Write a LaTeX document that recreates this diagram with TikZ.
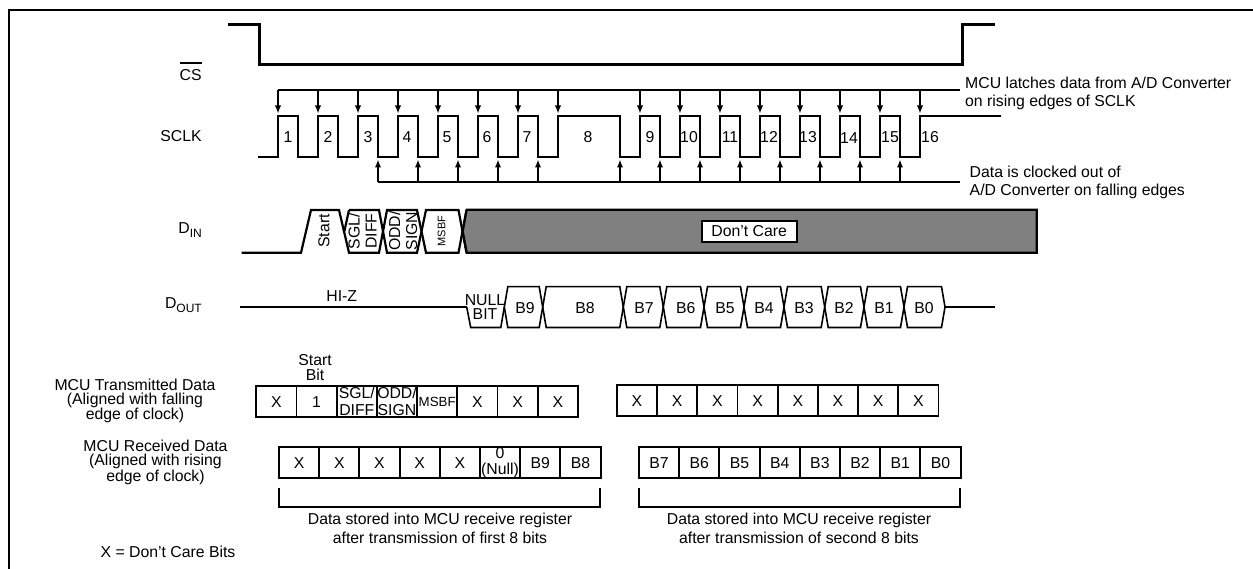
\documentclass[tikz,border=0pt]{standalone}
\usepackage{fontspec}
\setmainfont{Liberation Sans}
\usetikzlibrary{arrows.meta}
\newcommand{\lowtext}[1]{\raisebox{-4pt}{\fontsize{12}{12}\selectfont #1}}
\begin{document}
\begin{tikzpicture}[x=1pt,y=-1pt,font=\fontsize{15.8}{14}\selectfont,txt/.style={inner sep=0,align=center},one/.style={text height=11.4pt,text depth=0pt},small/.style={txt,font=\fontsize{11}{12}\selectfont},tight/.style={txt,font=\fontsize{15.8}{17}\selectfont},nul/.style={txt,font=\fontsize{15.8}{13.6}\selectfont},cell/.style={draw,line width=1.9pt,minimum width=40.2pt,minimum height=31pt,inner sep=0,align=center},sig/.style={line width=2.2pt},thin sig/.style={line width=1.6pt},arr/.style={line width=1.7pt,-{Latex[length=8pt,width=6.5pt]}}]
\useasboundingbox (0,0) rectangle (1253,569);
\draw[line width=2.6pt] (9,569)--(9,10)--(1253,10);
\node[txt] (cs) at (190.7,75) {CS};
\draw[line width=2pt] (180,63.5)--(202,63.5);
\node[txt] (sclk) at (181,136) {SCLK};
\node[txt,anchor=base east] (din) at (202,233.7) {D\lowtext{IN}};
\node[txt,anchor=base east] (dout) at (202,308.3) {D\lowtext{OUT}};
\draw[sig] (228,24.5)--(259.5,24.5)--(259.5,64.5)--(962.5,64.5)--(962.5,24.5)--(995,24.5);
\draw[sig] (258,157)
  \foreach \x in {278,318,358,398,438,478,518} {--(\x,157)--(\x,116)--(\x+20,116)--(\x+20,157)}
  --(558,157)--(558,116)--(620,116)--(620,157)
  \foreach \x in {640,680,720,760,800,840,880} {--(\x,157)--(\x,116)--(\x+20,116)--(\x+20,157)}
  --(920,157)--(920,116)--(1001,116);
\foreach \x/\t in {288/1,328/2,368/3,407/4,447/5,487/6,527/7,588/8,650/9,689/10,730/11,769/12,808/13,890/15,930/16} \node[txt,one] (clk\t) at (\x,136.5) {\t};
\node[txt,one] (clk14) at (849,138) {14};
\draw[sig] (278,90)--(960,90);
\foreach \x in {278,318,358,398,438,478,518,558,640,680,720,760,800,840,880,920} \draw[arr] (\x,90)--(\x,113.5);
\draw[sig] (378,182)--(960,182);
\foreach \x in {378,418,458,498,538,620,660,700,740,780,820,860,900} \draw[arr] (\x,182)--(\x,159.5);
\node[txt,align=left,anchor=west] (latch) at (965,93) {MCU latches data from A/D Converter\\[4pt]on rising edges of SCLK};
\node[txt,align=left,anchor=west] (clocked) at (969.5,182.5) {Data is clocked out of\\[4pt]A/D Converter on falling edges};
\draw[sig] (241.7,252.7)--(301,252.7)--(311,210)--(339,210)--(349,252.7)--(379,252.7)--(387,210)--(417,210)--(426,252.7)--(458.5,252.7)--(466.5,210);
\draw[sig] (349,210)--(344.3,231.5);
\draw[sig] (349,210)--(379,210)--(387,252.7)--(417,252.7)--(426,210)--(458.5,210)--(466.5,252.7);
\filldraw[sig,fill=black!50] (1036.7,209.7)--(466.7,209.7)--(462.7,231.2)--(466.7,252.7)--(1036.7,252.7)--cycle;
\node[draw,line width=2pt,fill=white,minimum width=95pt,minimum height=21.5pt,inner sep=0] (care) at (749.2,231.5) {Don't Care};
\node[txt,rotate=90] (start) at (324,231) {Start};
\node[tight,rotate=90] (sgl) at (362.5,231) {SGL/\\DIFF};
\node[tight,rotate=90] (odd) at (403,231) {ODD/\\SIGN};
\node[small,rotate=90] (msbf) at (441.7,231) {MSBF};
\draw[sig] (240,307)--(466.7,307);
\node[txt] (hiz) at (341.7,295.7) {HI-Z};
\draw[thin sig] (466.7,307)--(470.7,327.5)--(500.8,327.5)--(504.3,307);
\foreach \a/\b in {504.3/542.7,542.7/623.3,623.3/663.3,663.3/704,704/744,744/784,784/824.7,824.7/864,864/904,904/945} \draw[thin sig] (\a,307)--(\a+3.5,286.7)--(\b-3.5,286.7)--(\b,307)--(\b-3.5,327.5)--(\a+3.5,327.5)--cycle;
\draw[sig] (945,307)--(995,307);
\node[nul] (null) at (485,307) {NULL\\BIT};
\foreach \x/\t in {525/B9,585/B8,644/B7,685.7/B6,725/B5,764/B4,804/B3,844/B2,884/B1,924/B0} \node[txt,one] (out\t) at (\x,307.7) {\t};
\node[txt] (startbit) at (315,367.5) {Start\\[1pt]Bit};
\node[txt] (tx) at (135,401) {MCU Transmitted Data\\(Aligned with falling\\edge of clock)};
\node[txt] (rx) at (155.5,462.3) {MCU Received Data\\(Aligned with rising\\edge of clock)};
\node[cell,one] (t1) at (276.4,401.7) {X};
\node[cell,one] (t2) at (316.6,401.7) {1};
\node[cell,font=\fontsize{15.8}{17}\selectfont] (t3) at (356.8,401.7) {SGL/\\DIFF};
\node[cell,font=\fontsize{15.8}{17}\selectfont] (t4) at (397,401.7) {ODD/\\SIGN};
\node[cell,font=\fontsize{13.3}{14}\selectfont] (t5) at (437.2,401.7) {MSBF};
\foreach \i/\x in {6/477.4,7/517.6,8/557.8} \node[cell,one] (t\i) at (\x,401.7) {X};
\foreach \i/\x in {1/637,2/677.2,3/717.4,4/757.6,5/797.8,6/838,7/878.2,8/918.4} \node[cell,one] (u\i) at (\x,400.7) {X};
\foreach \i/\x in {1/299.1,2/339.3,3/379.5,4/419.7,5/459.9} \node[cell,one] (r\i) at (\x,462.5) {X};
\node[cell,font=\fontsize{15.8}{15.5}\selectfont] (r6) at (500.1,462.5) {0\\(Null)};
\node[cell,one] (r7) at (540.3,462.5) {B9};
\node[cell,one] (r8) at (580.5,462.5) {B8};
\foreach \i/\x/\t in {1/659.1/B7,2/699.3/B6,3/739.5/B5,4/779.7/B4,5/819.9/B3,6/860.1/B2,7/900.3/B1,8/940.5/B0} \node[cell,one] (s\i) at (\x,462.5) {\t};
\draw[sig] (279,487.7)--(279,506.7)--(600,506.7)--(600,487.7);
\draw[sig] (639,487.7)--(639,506.7)--(960,506.7)--(960,487.7);
\node[txt,font=\fontsize{15.8}{18.7}\selectfont] (first) at (440,528.5) {Data stored into MCU receive register\\after transmission of first 8 bits};
\node[txt,font=\fontsize{15.8}{18.7}\selectfont] (second) at (799,528.5) {Data stored into MCU receive register\\after transmission of second 8 bits};
\node[txt] (dontcare) at (168,552.3) {X = Don't Care Bits};
\end{tikzpicture}
\end{document}
